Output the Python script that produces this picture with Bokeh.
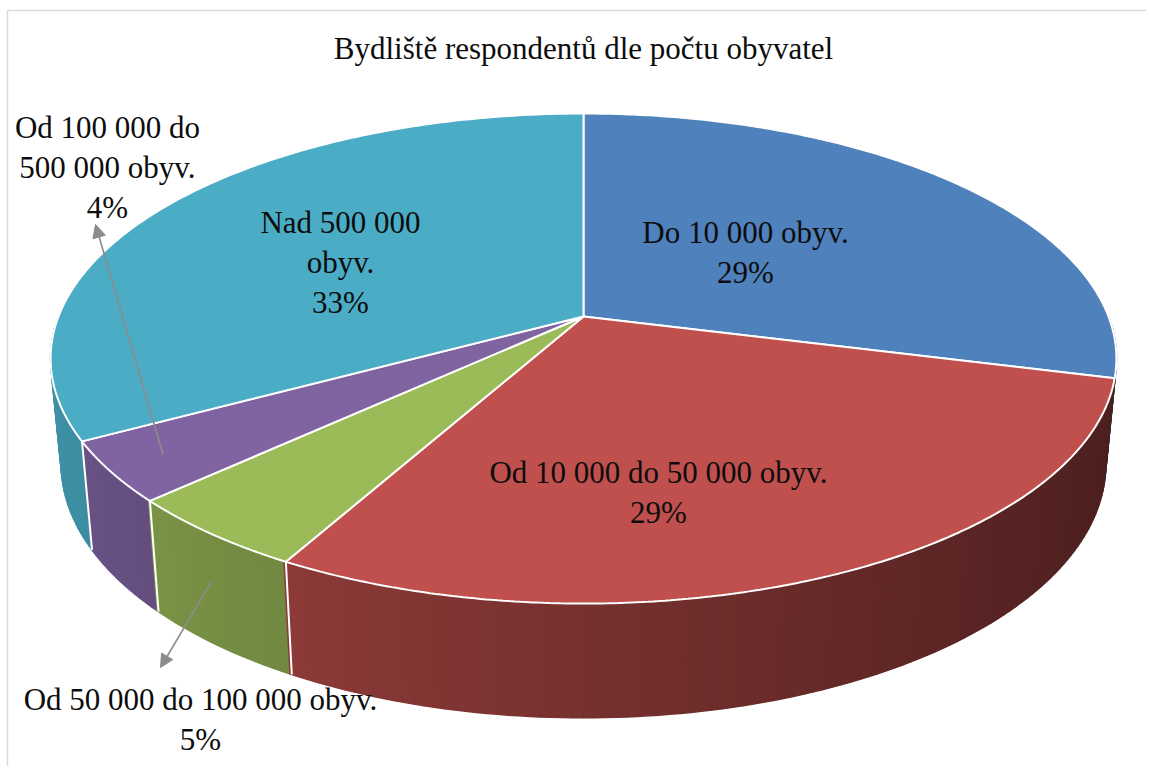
import textwrap
import numpy as np
from bokeh.plotting import figure
from bokeh.models import Range1d, Arrow, NormalHead
from bokeh.core.properties import value
from bokeh.embed import file_html
from bokeh.resources import INLINE

# ---------------- data ----------------
title_text = "Bydliště respondentů dle počtu obyvatel"
categories = ["Do 10 000 obyv.", "Od 10 000 do 50 000 obyv.",
              "Od 50 000 do 100 000 obyv.", "Od 100 000 do 500 000 obyv.",
              "Nad 500 000 obyv."]
percent = [29, 29, 5, 4, 33]
colors = ["#4F81BD", "#C0504D", "#9BBB59", "#8064A2", "#4BACC6"]

# ---------------- layout ----------------
wrap_width = [None, None, None, 14, 11]
label_pos = [(745, 252), (658, 492), (200, 719), (107, 167), (340, 262)]
arrow_tip = {2: (160, 667), 3: (95, 224)}

W, HGT = 1146, 766
CX, CY = 583.0, 316.0   # pie apex on screen
R, H, K = 525.0, 237.8, 0.1715
T0 = 104.0
BOT_SHRINK = 0.98
FONT = "Liberation Serif"
FSIZE = "31px"


def proj(theta_deg, r=1.0):
    th = np.radians(theta_deg)
    u = r * np.sin(th)
    v = -r * np.cos(th)
    s = 1.0 / (1.0 - K * v)
    return CX + R * u * s, CY + H * v * s, s


def bottom(x, y, s):
    return CX + (x - CX) * BOT_SHRINK, y + T0 * np.sqrt(s)


def shade(hexcol, f):
    h = hexcol.lstrip("#")
    rgb = [int(h[i:i + 2], 16) for i in (0, 2, 4)]
    return "#%02x%02x%02x" % tuple(int(max(0, min(255, c * f))) for c in rgb)


total = float(sum(percent))
spans = [p_ / total * 360.0 for p_ in percent]
starts = np.concatenate([[0.0], np.cumsum(spans)[:-1]])
ends = starts + np.array(spans)

p = figure(width=W, height=HGT, output_backend="svg", toolbar_location=None,
           x_range=Range1d(0, W), y_range=Range1d(HGT, 0), min_border=0)
p.axis.visible = False
p.grid.visible = False
p.outline_line_color = None
p.background_fill_color = "white"

# chart area border (left and top edges visible)
p.segment(x0=[7, 7], y0=[10, 10], x1=[7, 1170], y1=[790, 10],
          line_color="#D9D9D9", line_width=1.5)

# ---------------- side wall ----------------
step = 1.0
mids = np.arange(90 + step / 2, 270, step)
order = np.argsort(-np.cos(np.radians(mids)))
sx, sy, sc = [], [], []
for i in order:
    m = mids[i]
    t0, t1 = m - step / 2, m + step / 2
    idx = int(np.searchsorted(ends, m))
    f = 0.62 - 0.23 * np.sin(np.radians(m))
    col = shade(colors[idx], f)
    xa, ya, sa = proj(t0)
    xb, yb, sb = proj(t1)
    xa2, ya2 = bottom(xa, ya, sa)
    xb2, yb2 = bottom(xb, yb, sb)
    sx.append([xa, xb, xb2, xa2])
    sy.append([ya, yb, yb2, ya2])
    sc.append(col)
p.patches(sx, sy, fill_color=sc, line_color=sc, line_width=1.6)

# white edges on the wall at slice boundaries
for b in ends[:-1]:
    if 110 < b < 255:
        x1, y1, s1 = proj(b)
        x2, y2 = bottom(x1, y1, s1)
        p.line([x1, x2], [y1, y2], line_color="white", line_width=2)

# ---------------- top faces ----------------
txs, tys = [], []
for a0, a1 in zip(starts, ends):
    th = np.linspace(a0, a1, 200)
    x, y, _ = proj(th)
    txs.append([CX] + list(x))
    tys.append([CY] + list(y))
p.patches(txs, tys, fill_color=colors, line_color="white", line_width=2)

# ---------------- leader arrows ----------------
for i, tip in arrow_tip.items():
    mid = (starts[i] + ends[i]) / 2
    if i == 3:
        x0, y0, _ = proj(mid, 0.9)
    else:
        xr, yr, sr = proj(mid)
        x0, y0 = xr, yr + 0.43 * T0 * np.sqrt(sr)
    p.add_layout(Arrow(x_start=x0, y_start=y0, x_end=tip[0], y_end=tip[1],
                       line_color="#8C8C8C", line_width=1.6,
                       end=NormalHead(size=13, fill_color="#8C8C8C",
                                      line_color="#8C8C8C")))

# ---------------- labels ----------------
texts = []
for cat, pc, w in zip(categories, percent, wrap_width):
    lines = textwrap.wrap(cat, w) if w else [cat]
    texts.append("\n".join(lines + [f"{pc}%"]))
p.text(x=[q[0] for q in label_pos], y=[q[1] for q in label_pos], text=texts,
       text_font=value(FONT), text_font_size=FSIZE, text_color="#0d0d0d",
       text_align="center", text_baseline="middle", text_line_height=1.15)

p.text(x=[CX], y=[48], text=[title_text], text_font=value(FONT),
       text_font_size=FSIZE, text_color="#0d0d0d",
       text_align="center", text_baseline="middle")

open("out.html", "w").write(file_html(p, INLINE))
